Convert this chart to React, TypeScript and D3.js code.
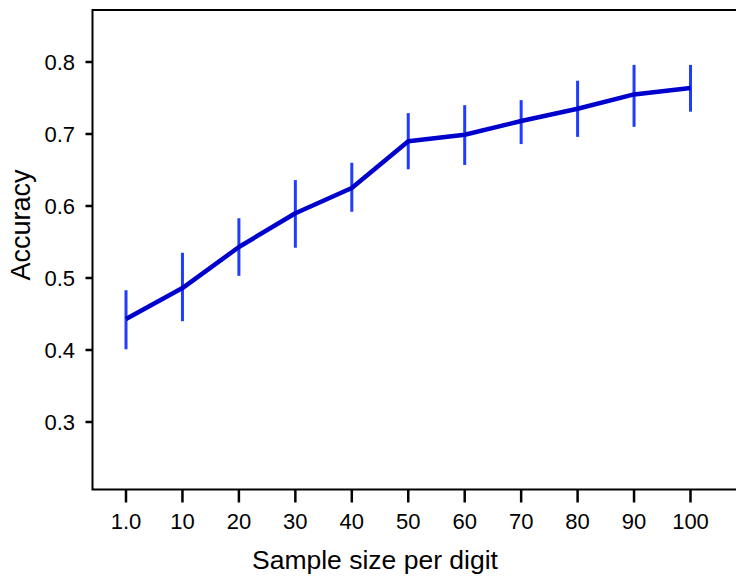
import React from "react";
import * as d3 from "d3";

const categories = ["1.0", "10", "20", "30", "40", "50", "60", "70", "80", "90", "100"];
const accuracy = [0.443, 0.486, 0.543, 0.590, 0.625, 0.690, 0.699, 0.718, 0.735, 0.755, 0.764];
const errLow = [0.401, 0.440, 0.503, 0.542, 0.592, 0.651, 0.657, 0.686, 0.696, 0.710, 0.731];
const errHigh = [0.483, 0.535, 0.583, 0.636, 0.660, 0.729, 0.740, 0.747, 0.774, 0.796, 0.796];
const yTicks = [0.3, 0.4, 0.5, 0.6, 0.7, 0.8];

const W = 736;
const H = 578;
const left = 92.5;
const top = 10;
const bottom = 489.5;
const right = 740;

export default function App() {
  const x = d3.scalePoint<string>().domain(categories).range([126, 690.5]);
  const y = d3.scaleLinear().domain([0.3, 0.8]).range([422, 62]);
  const line = d3
    .line<number>()
    .x((_, i) => x(categories[i]) as number)
    .y((d) => y(d));
  const font = "Arial, 'Liberation Sans', Helvetica, sans-serif";

  return (
    <svg
      width={W}
      height={H}
      style={{ position: "absolute", left: 0, top: 0, background: "#fff" }}
      fontFamily={font}
    >
      {/* frame */}
      <path
        d={`M${right},${top}H${left}V${bottom}H${right}`}
        fill="none"
        stroke="#000"
        strokeWidth={2}
      />
      {/* y ticks */}
      {yTicks.map((t) => (
        <g key={t}>
          <line x1={left - 7} x2={left} y1={y(t)} y2={y(t)} stroke="#000" strokeWidth={2.5} />
          <text
            x={75}
            y={y(t)}
            textAnchor="end"
            dominantBaseline="central"
            fontSize={22}
            fill="#000"
          >
            {t.toFixed(1)}
          </text>
        </g>
      ))}
      {/* x ticks */}
      {categories.map((c) => (
        <g key={c}>
          <line
            x1={x(c)}
            x2={x(c)}
            y1={bottom}
            y2={bottom + 13}
            stroke="#000"
            strokeWidth={2.5}
          />
          <text x={x(c)} y={529} textAnchor="middle" fontSize={22} fill="#000">
            {c}
          </text>
        </g>
      ))}
      {/* error bars */}
      {categories.map((c, i) => (
        <line
          key={"e" + c}
          x1={x(c)}
          x2={x(c)}
          y1={y(errLow[i])}
          y2={y(errHigh[i])}
          stroke="#1f3cff"
          strokeWidth={3}
        />
      ))}
      {/* line */}
      <path
        d={line(accuracy) as string}
        fill="none"
        stroke="#0000cc"
        strokeWidth={4.5}
        strokeLinejoin="round"
      />
      {/* axis titles */}
      <text x={375} y={569} textAnchor="middle" fontSize={26.5} fill="#000">
        Sample size per digit
      </text>
      <text
        transform={`translate(30,225) rotate(-90)`}
        textAnchor="middle"
        fontSize={27}
        fill="#000"
      >
        Accuracy
      </text>
    </svg>
  );
}
